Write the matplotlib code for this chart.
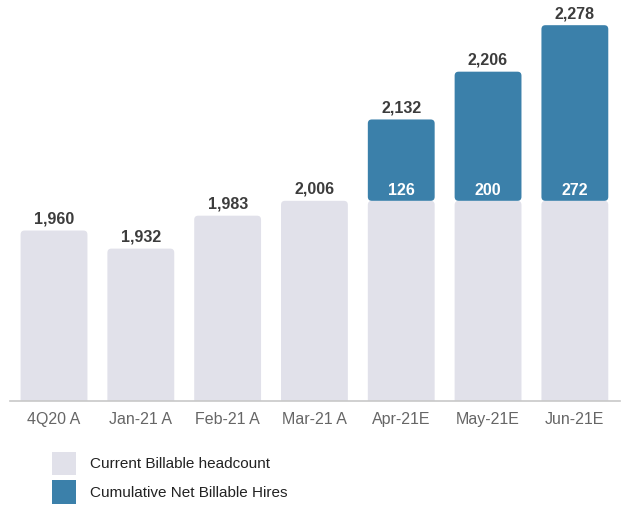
import numpy as np
import matplotlib.pyplot as plt
from matplotlib.patches import FancyBboxPatch, Patch

plt.rcParams['font.family'] = ['Liberation Sans', 'DejaVu Sans']

periods = ['4Q20 A', 'Jan-21 A', 'Feb-21 A', 'Mar-21 A', 'Apr-21E', 'May-21E', 'Jun-21E']
headcount = [1960, 1932, 1983, 2006, 2006, 2006, 2006]
net_hires = [0, 0, 0, 0, 126, 200, 272]

gray = '#e1e1ea'
blue = '#3b80aa'

fig = plt.figure(figsize=(6.21, 5.05), dpi=100)
ax = fig.add_axes([10/621, 1-401/505, 610/621, 401/505])

x = np.arange(len(periods))
width = 0.77
ymin, ymax = 1696, 2317
ax.set_xlim(-0.507, 6.52)
ax.set_ylim(ymin, ymax)

# aspect correction so corners look round in pixels
bbox = ax.get_window_extent()
px_x = bbox.width / (6.52 + 0.507)
px_y = bbox.height / (ymax - ymin)
r = 4 / px_x


def rbar(x0, y0, w, h, color):
    p = FancyBboxPatch((x0, y0), w, h,
                       boxstyle='round,pad=0,rounding_size=%f' % r,
                       mutation_aspect=px_x / px_y,
                       fc=color, ec='none', lw=0)
    ax.add_patch(p)


for i in x:
    rbar(i - width/2, ymin - 50, width, headcount[i] - ymin + 50, gray)
    total = headcount[i] + net_hires[i]
    if net_hires[i] > 0:
        rbar(i - width/2, headcount[i], width, net_hires[i], blue)
        ax.annotate(str(net_hires[i]), (i, headcount[i]), xytext=(0, 2),
                    textcoords='offset points', ha='center', va='bottom',
                    fontsize=11.5, fontweight='bold', color='white')
    ax.annotate(f'{total:,}', (i, total), xytext=(0, 3),
                textcoords='offset points', ha='center', va='bottom',
                fontsize=11.5, fontweight='bold', color='#3c3c3c')

ax.axhline(ymin, color='#c8c8c8', lw=1.2, clip_on=False)
for s in ax.spines.values():
    s.set_visible(False)
ax.set_yticks([])
ax.set_xticks(x)
ax.set_xticklabels(periods, fontsize=11.5, color='#666666')
ax.tick_params(axis='x', length=0, pad=8)

handles = [Patch(fc=gray, ec='none', label='Current Billable headcount'),
           Patch(fc=blue, ec='none', label='Cumulative Net Billable Hires')]
fig.legend(handles=handles, loc='upper left', bbox_to_anchor=(38/621, 1-438/505),
           frameon=False, fontsize=11, handlelength=1.6, handleheight=2.0,
           handletextpad=0.9, labelspacing=0.3, labelcolor='#222222')

fig.savefig('out.png', dpi=100, facecolor='white')
